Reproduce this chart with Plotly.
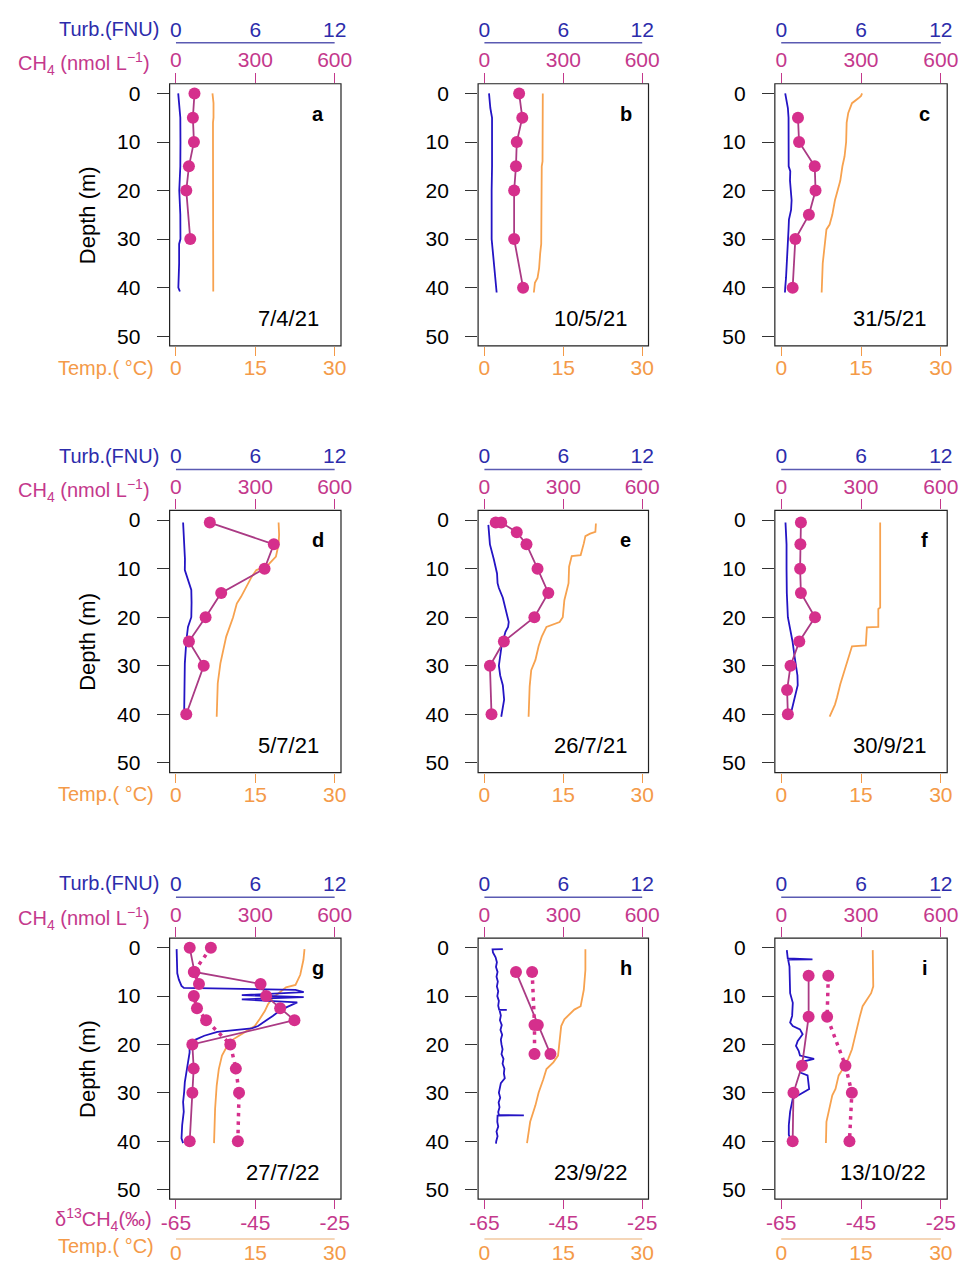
import plotly.graph_objects as go

# ---------------- data ----------------
dates = ["7/4/21", "10/5/21", "31/5/21", "5/7/21", "26/7/21", "30/9/21",
         "27/7/22", "23/9/22", "13/10/22"]
letters = ["a", "b", "c", "d", "e", "f", "g", "h", "i"]

ch4_ticks = [0, 300, 600]
turb_ticks = [0, 6, 12]
temp_ticks = [0, 15, 30]
d13c_ticks = [-65, -45, -25]
depth_ticks = [0, 10, 20, 30, 40, 50]

# panel a
a_ch4_depth = [0, 5, 10, 15, 20, 30]
a_ch4 = [70, 64, 68, 49, 39, 54]
a_turb_depth = [0, 2, 5, 10, 15, 20, 25, 30, 31, 35, 38, 40, 40.8]
a_turb = [0.17, 0.24, 0.33, 0.34, 0.33, 0.25, 0.33, 0.34, 0.24, 0.24, 0.22, 0.18, 0.30]
a_temp_depth = [0, 1, 2, 5, 6, 10, 20, 30, 40, 40.8]
a_temp = [6.9, 6.95, 7.1, 7.1, 7.0, 7.0, 7.0, 7.0, 7.05, 7.05]

# panel b
b_ch4_depth = [0, 5, 10, 15, 20, 30, 40]
b_ch4 = [132, 144, 123, 120, 113, 113, 147]
b_turb_depth = [0, 3, 5, 10, 15, 20, 25, 30, 32, 35, 38, 41]
b_turb = [0.35, 0.45, 0.58, 0.60, 0.58, 0.55, 0.56, 0.55, 0.62, 0.72, 0.82, 0.93]
b_temp_depth = [0, 5, 10, 14, 15, 20, 25, 30, 31, 33, 36, 38, 39, 41]
b_temp = [11.1, 11.1, 11.05, 11.05, 10.9, 10.9, 10.9, 10.9, 10.8, 10.6, 10.4, 10.1, 9.6, 9.4]

# panel c
c_ch4_depth = [5, 10, 15, 20, 25, 30, 40]
c_ch4 = [63, 67, 126, 129, 104, 53, 43]
c_turb_depth = [0, 1, 3, 5, 10, 15, 16, 18, 20, 22, 24, 25, 26, 28, 30, 32, 35, 38, 40, 41]
c_turb = [0.30, 0.38, 0.50, 0.55, 0.55, 0.56, 0.68, 0.66, 0.72, 0.78, 0.74, 0.68, 0.58,
          0.55, 0.52, 0.45, 0.42, 0.36, 0.30, 0.28]
c_temp_depth = [0, 0.5, 1, 2, 4, 6, 10, 13, 15, 18, 20, 22, 25, 27, 28, 30, 33, 35, 38, 41]
c_temp = [15.2, 15.0, 14.5, 13.3, 12.6, 12.3, 12.2, 11.9, 11.5, 11.1, 10.6, 10.1, 9.6,
          9.1, 8.5, 8.3, 8.0, 7.8, 7.7, 7.6]

# panel d
d_ch4_depth = [0.5, 5, 10, 15, 20, 25, 30, 40]
d_ch4 = [128, 370, 335, 171, 112, 49, 105, 39]
d_turb_depth = [0.5, 3, 5, 8, 10.3, 12.4, 14.4, 17, 20, 22, 24.7, 29.5, 35, 39.8, 40.5]
d_turb = [0.54, 0.60, 0.65, 0.68, 0.67, 0.91, 1.16, 1.18, 1.16, 0.91, 0.79, 0.67, 0.65, 0.62, 0.54]
d_temp_depth = [0.5, 3, 5, 7.5, 9.6, 10.3, 11.7, 13.7, 15.8, 17.2, 20, 24, 26, 29.5, 33.6, 40.5]
d_temp = [19.4, 19.5, 19.4, 18.9, 17.1, 15.2, 14.3, 13.4, 12.3, 11.5, 10.8, 9.5, 9.1, 8.4, 7.9, 7.7]

# panel e
e_ch4_depth = [0.5, 0.5, 2.5, 5, 10, 15, 20, 25, 30, 40]
e_ch4 = [43, 64, 123, 160, 202, 243, 190, 74, 21, 27]
e_turb_depth = [1, 3, 5, 8, 11, 13, 14, 16, 19, 21, 22, 23, 26, 30, 32, 34, 37, 40, 40.5]
e_turb = [0.30, 0.36, 0.42, 0.71, 0.96, 1.00, 1.10, 1.40, 1.70, 1.85, 1.80, 1.60, 1.30,
          1.10, 1.20, 1.40, 1.50, 1.35, 1.28]
e_temp_depth = [0.7, 2.4, 2.8, 3.3, 4.8, 7.2, 7.4, 9.6, 13, 16.5, 20, 21, 22, 24, 26, 28.8,
                30.9, 34.3, 40.5]
e_temp = [21.2, 21.1, 20.1, 19.2, 18.9, 18.3, 16.6, 16.1, 16.0, 15.2, 14.9, 14.3, 11.8,
          10.9, 10.3, 9.7, 8.9, 8.6, 8.4]

# panel f
f_ch4_depth = [0.5, 5, 10, 15, 20, 25, 30, 35, 40]
f_ch4 = [74, 72, 71, 74, 127, 68, 35, 22, 25]
f_turb_depth = [0.5, 5, 10, 15, 20, 25, 28, 30, 32, 34, 35, 37, 39, 40.5]
f_turb = [0.32, 0.40, 0.40, 0.42, 0.50, 0.85, 1.00, 1.11, 1.22, 1.24, 1.15, 1.00, 0.80, 0.57]
f_temp_depth = [0.5, 18, 18.3, 22, 22.1, 25.8, 26, 29, 31, 33.8, 36.5, 38, 40.5]
f_temp = [18.6, 18.6, 18.25, 18.25, 16.1, 15.9, 13.3, 12.4, 11.8, 11.1, 10.5, 10.1, 9.1]

# panel g
g_ch4_depth = [0, 5, 7.5, 10, 12.5, 15, 20, 25, 30, 40]
g_ch4 = [52, 70, 320, 341, 394, 448, 62, 67, 62, 52]
g_d13c_depth = [0, 5, 7.5, 10, 12.5, 15, 20, 25, 30, 40]
g_d13c = [-56.2, -60.5, -59.2, -60.5, -59.7, -57.4, -51.3, -49.9, -49.1, -49.4]
g_turb_depth = [0.3, 5.3, 6.6, 7.9, 8.3, 8.7, 9.2, 9.8, 10.2, 10.7, 11.3, 11.7, 12.4, 13.1,
                13.6, 14.1, 14.8, 15.5, 16.2, 16.7, 17.0, 17.4, 18.2, 19.1, 19.6, 20.3,
                21.7, 23.7, 25.8, 27.8, 29.8, 31.9, 33.9, 36.7, 39.4, 40.4]
g_turb = [0.05, 0.10, 0.22, 0.42, 0.60, 9.04, 9.66, 4.98, 9.66, 4.98, 9.17, 8.80, 8.30,
          7.81, 7.60, 7.32, 6.95, 6.58, 6.21, 5.72, 4.61, 3.13, 2.14, 1.40, 1.16, 1.03,
          1.03, 0.91, 0.79, 0.67, 0.62, 0.54, 0.59, 0.47, 0.42, 0.54]
g_temp_depth = [0.3, 2.5, 5.6, 7.7, 8.2, 9.4, 10.4, 11.7, 13.1, 14.8, 16.2, 17.2, 18.9,
                20.3, 22.3, 25.1, 28.5, 33.3, 40.4]
g_temp = [24.3, 24.1, 23.5, 22.6, 20.8, 19.5, 18.3, 17.4, 16.8, 15.8, 14.9, 13.4, 10.9,
          9.7, 8.7, 8.1, 7.7, 7.4, 7.2]

# panel h
h_ch4_depth = [5, 16, 22]
h_ch4 = [120, 203, 251]
h_d13c_depth = [5, 16, 22]
h_d13c = [-52.9, -52.3, -52.3]
h_turb_depth = [0.3, 0.35, 1, 2, 3, 4, 5, 6, 7, 8, 9, 10, 11, 12, 12.8, 12.85, 12.9, 14,
                15, 16, 17, 18, 19, 20, 21, 22, 23, 24, 25, 26, 27, 28, 29, 30, 31, 32,
                33, 34, 34.6, 34.65, 34.7, 36, 37, 38, 39, 40, 40.5]
h_turb = [1.40, 0.62, 0.65, 0.85, 0.95, 0.88, 1.00, 0.92, 1.02, 0.95, 1.05, 0.98, 1.10,
          1.05, 1.12, 1.70, 1.15, 1.25, 1.18, 1.32, 1.22, 1.35, 1.25, 1.30, 1.38, 1.30,
          1.45, 1.38, 1.52, 1.48, 1.55, 1.25, 1.18, 1.10, 1.20, 1.08, 1.15, 1.05, 1.10,
          3.00, 1.00, 0.98, 1.05, 0.92, 1.00, 0.90, 0.88]
h_temp_depth = [0.3, 4.6, 8.7, 10.7, 12.1, 12.8, 14.8, 16.2, 19.6, 22.3, 23.7, 25.1, 27.2,
                30, 32.6, 36, 40.4]
h_temp = [19.2, 19.2, 18.9, 18.6, 18.3, 17.1, 15.2, 14.6, 14.3, 14.0, 13.1, 11.8, 11.2,
          10.3, 9.7, 8.7, 8.1]

# panel i
i_ch4_depth = [5.8, 14.3, 24.4, 30, 40]
i_ch4 = [103, 103, 78, 46, 43]
i_d13c_depth = [5.8, 14.3, 24.4, 30, 40]
i_d13c = [-53.2, -53.5, -48.9, -47.3, -47.9]
i_turb_depth = [0.5, 2.2, 2.4, 2.45, 3.9, 9.4, 11.4, 14.1, 15.5, 16.2, 16.9, 17.9, 19.3,
                20.3, 21.3, 22.3, 23.0, 23.7, 25.8, 26.4, 29.2, 30.5, 31.2, 33.9, 36.7,
                38.7, 39.8]
i_turb = [0.42, 0.49, 2.35, 0.52, 0.62, 0.67, 0.87, 0.82, 0.67, 0.87, 1.41, 1.61, 1.24,
          1.11, 1.31, 1.41, 2.47, 1.41, 1.41, 1.98, 2.10, 1.24, 0.87, 0.67, 0.57, 0.57, 0.74]
i_temp_depth = [0.5, 8, 9.4, 11.1, 12.1, 14.1, 16.9, 18.2, 21, 23, 24.7, 26.4, 29.2, 30.5,
                33.3, 36, 40.4]
i_temp = [17.2, 17.3, 16.9, 15.8, 15.3, 14.8, 14.2, 13.9, 13.3, 12.6, 11.8, 10.8, 10.2,
          9.6, 9.0, 8.5, 8.4]

panels = [
    dict(ch4d=a_ch4_depth, ch4=a_ch4, tud=a_turb_depth, tu=a_turb, ted=a_temp_depth, te=a_temp),
    dict(ch4d=b_ch4_depth, ch4=b_ch4, tud=b_turb_depth, tu=b_turb, ted=b_temp_depth, te=b_temp),
    dict(ch4d=c_ch4_depth, ch4=c_ch4, tud=c_turb_depth, tu=c_turb, ted=c_temp_depth, te=c_temp),
    dict(ch4d=d_ch4_depth, ch4=d_ch4, tud=d_turb_depth, tu=d_turb, ted=d_temp_depth, te=d_temp),
    dict(ch4d=e_ch4_depth, ch4=e_ch4, tud=e_turb_depth, tu=e_turb, ted=e_temp_depth, te=e_temp),
    dict(ch4d=f_ch4_depth, ch4=f_ch4, tud=f_turb_depth, tu=f_turb, ted=f_temp_depth, te=f_temp),
    dict(ch4d=g_ch4_depth, ch4=g_ch4, tud=g_turb_depth, tu=g_turb, ted=g_temp_depth, te=g_temp,
         dd=g_d13c_depth, d=g_d13c),
    dict(ch4d=h_ch4_depth, ch4=h_ch4, tud=h_turb_depth, tu=h_turb, ted=h_temp_depth, te=h_temp,
         dd=h_d13c_depth, d=h_d13c),
    dict(ch4d=i_ch4_depth, ch4=i_ch4, tud=i_turb_depth, tu=i_turb, ted=i_temp_depth, te=i_temp,
         dd=i_d13c_depth, d=i_d13c),
]

# ---------------- style ----------------
W, H = 968, 1264
COLS = [(164, 339), (479, 653), (782, 958)]
ROWS = [(82, 345), (510, 773), (939, 1201)]
FONT = "Liberation Sans, Arial, sans-serif"
FS = 21

TURB_LN = "#2414c4"
TURB_TXT = "#2c2cab"
TURB_AX = "#5a5ab2"
CH4_MK = "#d52f8c"
CH4_LN = "#aa3a84"
CH4_TXT = "#c4388c"
TEMP_LN = "#f7a24f"
TEMP_TXT = "#f49a48"
TEMP_AX = "#f2c8a0"


def fx(px):
    return px / W


def fy(py):
    return 1 - py / H


fig = go.Figure()
layout = dict(width=W, height=H, margin=dict(l=0, r=0, t=0, b=0),
              paper_bgcolor="white", plot_bgcolor="white", showlegend=False,
              font=dict(family=FONT, size=FS, color="black"))
shapes = []
annotations = []

ax_id = 0


def new_x():
    global ax_id
    ax_id += 1
    name = "xaxis" if ax_id == 1 else f"xaxis{ax_id}"
    ref = "x" if ax_id == 1 else f"x{ax_id}"
    return name, ref


for k, p in enumerate(panels):
    r, c = divmod(k, 3)
    x0, x1 = COLS[c]
    y0, y1 = ROWS[r]
    yname = "yaxis" if k == 0 else f"yaxis{k + 1}"
    yref = "y" if k == 0 else f"y{k + 1}"
    dom = [fx(x0), fx(x1)]
    common = dict(showgrid=False, zeroline=False, fixedrange=True, showline=False)

    # temperature axis (main)
    tname, tref = new_x()
    if r < 2:
        layout[tname] = dict(domain=dom, anchor=yref, side="bottom", range=[-1.2, 31.2],
                             tickvals=temp_ticks, ticks="outside", ticklen=9,
                             tickcolor=TEMP_TXT, tickwidth=1, ticklabelstandoff=-6,
                             tickfont=dict(color=TEMP_TXT, size=FS), **common)
    else:
        layout[tname] = dict(domain=dom, anchor="free", position=fy(y1 + 40), side="bottom",
                             range=[-1.2, 31.2], tickvals=temp_ticks, ticks="",
                             ticklabelstandoff=-1,
                             tickfont=dict(color=TEMP_TXT, size=FS), **common)
        shapes.append(dict(type="line", xref=tref, yref="paper", x0=0, x1=30,
                           y0=fy(y1 + 40), y1=fy(y1 + 40),
                           line=dict(color=TEMP_AX, width=1.5)))
    # turbidity axis
    uname, uref = new_x()
    layout[uname] = dict(overlaying=tref, anchor="free", position=fy(y0 - 41), side="top",
                         range=[-0.48, 12.48], tickvals=turb_ticks, ticks="",
                         ticklabelstandoff=2,
                         tickfont=dict(color=TURB_TXT, size=FS), **common)
    shapes.append(dict(type="line", xref=uref, yref="paper", x0=0, x1=12,
                       y0=fy(y0 - 41), y1=fy(y0 - 41), line=dict(color=TURB_AX, width=1.5)))
    # CH4 axis
    cname, cref = new_x()
    layout[cname] = dict(overlaying=tref, anchor=yref, side="top", range=[-24, 624],
                         tickvals=ch4_ticks, ticks="outside", ticklen=10, tickcolor=CH4_TXT,
                         tickwidth=1, ticklabelstandoff=-3,
                         tickfont=dict(color=CH4_TXT, size=FS), **common)
    # d13C axis
    dref = None
    if r == 2:
        dname, dref = new_x()
        layout[dname] = dict(overlaying=tref, anchor=yref, side="bottom",
                             range=[-66.6, -23.4], tickvals=d13c_ticks,
                             ticktext=[str(v) for v in d13c_ticks],
                             ticks="outside", ticklen=9, tickcolor=CH4_TXT, tickwidth=1,
                             ticklabelstandoff=-4,
                             tickfont=dict(color=CH4_TXT, size=FS), **common)
    # depth axis
    layout[yname] = dict(domain=[fy(y1), fy(y0)], anchor=tref, range=[52, -2],
                         tickvals=depth_ticks, ticks="outside", ticklen=12, tickwidth=1,
                         tickcolor="#333333", ticklabelstandoff=12,
                         tickfont=dict(color="black", size=FS),
                         showgrid=False, zeroline=False, fixedrange=True, showline=False)

    # traces: temperature, turbidity, CH4, d13C
    fig.add_trace(go.Scatter(x=p["te"], y=p["ted"], xaxis=tref, yaxis=yref, mode="lines",
                             line=dict(color=TEMP_LN, width=1.8), hoverinfo="skip"))
    fig.add_trace(go.Scatter(x=p["tu"], y=p["tud"], xaxis=uref, yaxis=yref, mode="lines",
                             line=dict(color=TURB_LN, width=1.8), hoverinfo="skip"))
    if dref is not None:
        fig.add_trace(go.Scatter(x=p["d"], y=p["dd"], xaxis=dref, yaxis=yref,
                                 mode="lines+markers",
                                 line=dict(color=CH4_MK, width=3.5, dash="3.5px,5px"),
                                 marker=dict(color=CH4_MK, size=12), hoverinfo="skip"))
    fig.add_trace(go.Scatter(x=p["ch4"], y=p["ch4d"], xaxis=cref, yaxis=yref,
                             mode="lines+markers", line=dict(color=CH4_LN, width=1.8),
                             marker=dict(color=CH4_MK, size=12), hoverinfo="skip"))

    # box
    shapes.append(dict(type="rect", xref="paper", yref="paper", x0=fx(x0), x1=fx(x1),
                       y0=fy(y1), y1=fy(y0), line=dict(color="#222222", width=1.2)))
    # panel letter and date
    annotations.append(dict(text=f"<b>{letters[k]}</b>", xref="paper", yref="paper",
                            x=fx(x1 - 23), y=fy(y0 + 30), showarrow=False,
                            xanchor="center", yanchor="middle",
                            font=dict(size=FS - 1, color="black")))
    annotations.append(dict(text=dates[k], xref="paper", yref="paper",
                            x=fx(x1 - 20), y=fy(y1 - 27), showarrow=False,
                            xanchor="right", yanchor="middle",
                            font=dict(size=FS + 1, color="black")))

    if c == 0:
        annotations.append(dict(text="Turb.(FNU)", xref="paper", yref="paper",
                                x=fx(155), y=fy(y0 - 55), showarrow=False, xanchor="right",
                                yanchor="middle", font=dict(size=FS - 1, color=TURB_TXT)))
        annotations.append(dict(text="CH<sub>4</sub> (nmol L<sup>−1</sup>)", xref="paper",
                                yref="paper", x=fx(146), y=fy(y0 - 20), showarrow=False,
                                xanchor="right", yanchor="middle",
                                font=dict(size=FS - 1, color=CH4_TXT)))
        annotations.append(dict(text="Depth (m)", xref="paper", yref="paper", x=fx(80),
                                y=fy((y0 + y1) / 2), showarrow=False, textangle=-90,
                                xanchor="center", yanchor="middle",
                                font=dict(size=FS + 1, color="black")))
        if r < 2:
            annotations.append(dict(text="Temp.( °C)", xref="paper", yref="paper",
                                    x=fx(150), y=fy(y1 + 22), showarrow=False,
                                    xanchor="right", yanchor="middle",
                                    font=dict(size=FS - 1, color=TEMP_TXT)))
        else:
            annotations.append(dict(text="δ<sup>13</sup>CH<sub>4</sub>(‰)", xref="paper",
                                    yref="paper", x=fx(148), y=fy(y1 + 20), showarrow=False,
                                    xanchor="right", yanchor="middle",
                                    font=dict(size=FS - 1, color=CH4_TXT)))
            annotations.append(dict(text="Temp.( °C)", xref="paper", yref="paper",
                                    x=fx(150), y=fy(y1 + 47), showarrow=False,
                                    xanchor="right", yanchor="middle",
                                    font=dict(size=FS - 1, color=TEMP_TXT)))

layout["shapes"] = shapes
layout["annotations"] = annotations
fig.update_layout(**layout)
fig.write_html("out.html", config={"displayModeBar": False},
               post_script="document.body.style.margin='0';"
                           "document.body.style.overflow='hidden';")
